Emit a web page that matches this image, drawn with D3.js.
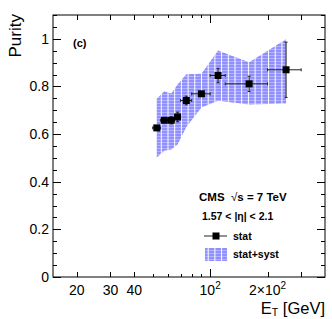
<!DOCTYPE html>
<html>
<head>
<meta charset="utf-8">
<script src="https://cdn.jsdelivr.net/npm/d3@7"></script>
<style>
  body { margin: 0; background: #fff; }
  svg { display: block; font-family: "Liberation Sans", Arial, sans-serif; }
</style>
</head>
<body>
<div id="chart"></div>
<script>
const width = 332;
const height = 319;
const margin = { left: 53, right: 7, top: 15, bottom: 42 };

// ——— DATA —————————————————————————————————————————————————————————
const etLow = [50, 55, 60, 65, 70, 80, 100, 120, 200];
const etHigh = [55, 60, 65, 70, 80, 100, 120, 200, 300];
const purity = [0.626, 0.658, 0.658, 0.672, 0.741, 0.769, 0.846, 0.811, 0.870];
const statErr = [0.010, 0.010, 0.015, 0.020, 0.018, 0.010, 0.030, 0.032, 0.116];
const bandHigh = [0.748, 0.780, 0.770, 0.808, 0.851, 0.853, 0.951, 0.902, 0.998];
const bandLow = [0.502, 0.530, 0.535, 0.556, 0.630, 0.712, 0.740, 0.724, 0.728];

const xTickLabels = [[20, "20"], [30, "30"], [40, "40"], [100, "10", "2"], [200, "2×10", "2"]];
const yTicks = [0, 0.2, 0.4, 0.6, 0.8, 1];

const points = purity.map((p, i) => ({
    lo: etLow[i], hi: etHigh[i], x: (etLow[i] + etHigh[i]) / 2,
    y: p, err: statErr[i], up: bandHigh[i], dn: bandLow[i]
}));

// ——— SCALES ————————————————————————————————————————————————————————
const x = d3.scaleLog().domain([15, 400]).range([margin.left, width - margin.right]);
const y = d3.scaleLinear().domain([0, 1.1]).range([height - margin.bottom, margin.top]);
const x0 = margin.left, x1 = width - margin.right;
const y0 = height - margin.bottom, y1 = margin.top;

const svg = d3.select("#chart").append("svg")
    .attr("width", width)
    .attr("height", height);

// hatch pattern like ROOT fill style
const defs = svg.append("defs");
const pat = defs.append("pattern")
    .attr("id", "hatch")
    .attr("patternUnits", "userSpaceOnUse")
    .attr("width", 6.7).attr("height", 3);
pat.append("rect").attr("width", 6.7).attr("height", 3).attr("fill", "#8f8fff");
pat.append("rect").attr("y", 1).attr("width", 6.7).attr("height", 1).attr("fill", "#b3b3ff");
pat.append("rect").attr("width", 1).attr("height", 3).attr("fill", "#fff");

// ——— BAND ——————————————————————————————————————————————————————————
const area = d3.area()
    .x(d => x(d.x))
    .y0(d => y(d.dn))
    .y1(d => y(d.up));

svg.append("path")
    .attr("d", area(points))
    .attr("fill", "url(#hatch)");

// ——— FRAME & AXES ——————————————————————————————————————————————————
svg.append("rect")
    .attr("x", x0).attr("y", y1)
    .attr("width", x1 - x0).attr("height", y0 - y1)
    .attr("fill", "none").attr("stroke", "#000").attr("stroke-width", 1);

const tickG = svg.append("g").attr("stroke", "#000").attr("stroke-width", 1);

// x ticks (log)
const xMinor = [];
for (let v = 20; v <= 90; v += 10) xMinor.push(v);
xMinor.push(100, 200, 300);
xMinor.forEach(v => {
    let len = 3;
    if (v === 100) len = 8;
    else if ([20, 30, 40, 200, 300].includes(v)) len = 5;
    const px = Math.round(x(v)) + 0.5;
    tickG.append("line").attr("x1", px).attr("x2", px).attr("y1", y0).attr("y2", y0 - len);
    tickG.append("line").attr("x1", px).attr("x2", px).attr("y1", y1).attr("y2", y1 + len);
});

// y ticks
d3.range(0, 1.1001, 0.05).forEach(v => {
    const major = Math.abs(v * 5 - Math.round(v * 5)) < 1e-6;
    const len = major ? 8 : 4;
    const py = Math.round(y(v)) + 0.5;
    tickG.append("line").attr("x1", x0).attr("x2", x0 + len).attr("y1", py).attr("y2", py);
    tickG.append("line").attr("x1", x1).attr("x2", x1 - len).attr("y1", py).attr("y2", py);
});

// y labels
svg.append("g").selectAll("text")
    .data(yTicks)
    .join("text")
    .attr("x", 49)
    .attr("y", d => y(d) + 5)
    .attr("text-anchor", "end")
    .attr("font-size", 14)
    .text(d => d === 0 ? "0" : d === 1 ? "1" : d.toFixed(1));

// x labels
const xl = svg.append("g");
xTickLabels.forEach(([v, base, sup]) => {
    const t = xl.append("text")
        .attr("x", x(v))
        .attr("y", 295)
        .attr("text-anchor", "middle")
        .attr("font-size", 14);
    t.append("tspan").text(base);
    if (sup) t.append("tspan").attr("dy", -6).attr("font-size", 10).text(sup);
});

// axis titles
const xt = svg.append("text")
    .attr("x", 325).attr("y", 314)
    .attr("text-anchor", "end")
    .attr("font-size", 16.5);
xt.append("tspan").text("E");
xt.append("tspan").attr("dy", 2).attr("font-size", 10.5).text("T");
xt.append("tspan").attr("dy", -2).text(" [GeV]");

svg.append("text")
    .attr("transform", "translate(21,14) rotate(-90)")
    .attr("text-anchor", "end")
    .attr("font-size", 17)
    .text("Purity");

// ——— POINTS ————————————————————————————————————————————————————————
const pts = svg.append("g");
const eb = pts.append("g").attr("stroke", "#222").attr("stroke-width", 1);
points.forEach(d => {
    const cx = x(d.x), cy = y(d.y);
    eb.append("line").attr("x1", x(d.lo)).attr("x2", x(d.hi)).attr("y1", cy).attr("y2", cy);
    eb.append("line").attr("x1", cx).attr("x2", cx).attr("y1", y(d.y + d.err)).attr("y2", y(d.y - d.err));
    // end caps
    eb.append("line").attr("x1", x(d.lo)).attr("x2", x(d.lo)).attr("y1", cy - 1.5).attr("y2", cy + 1.5);
    eb.append("line").attr("x1", x(d.hi)).attr("x2", x(d.hi)).attr("y1", cy - 1.5).attr("y2", cy + 1.5);
    eb.append("line").attr("x1", cx - 1.5).attr("x2", cx + 1.5).attr("y1", y(d.y + d.err)).attr("y2", y(d.y + d.err));
    eb.append("line").attr("x1", cx - 1.5).attr("x2", cx + 1.5).attr("y1", y(d.y - d.err)).attr("y2", y(d.y - d.err));
});
pts.selectAll("rect")
    .data(points)
    .join("rect")
    .attr("x", d => x(d.x) - 3.5)
    .attr("y", d => y(d.y) - 3.5)
    .attr("width", 7).attr("height", 7)
    .attr("fill", "#000");

// ——— LABELS & LEGEND ———————————————————————————————————————————————
svg.append("text")
    .attr("x", 73).attr("y", 47)
    .attr("font-size", 11).attr("font-weight", "bold")
    .text("(c)");

svg.append("text")
    .attr("x", 199).attr("y", 201)
    .attr("font-size", 11.5).attr("font-weight", "bold")
    .text("CMS");
const rs = svg.append("text")
    .attr("x", 231).attr("y", 201)
    .attr("font-size", 11.5).attr("font-weight", "bold");
rs.append("tspan").attr("font-weight", "normal").text("√");
rs.append("tspan").text("s = 7 TeV");

svg.append("text")
    .attr("x", 202).attr("y", 220)
    .attr("font-size", 10.5).attr("font-weight", "bold")
    .text("1.57 < |η| < 2.1");

const leg = svg.append("g");
leg.append("line")
    .attr("x1", 204).attr("x2", 227).attr("y1", 236).attr("y2", 236)
    .attr("stroke", "#222");
leg.append("rect")
    .attr("x", 212.5).attr("y", 232.5).attr("width", 7).attr("height", 7)
    .attr("fill", "#000");
leg.append("text")
    .attr("x", 233).attr("y", 240)
    .attr("font-size", 10.5).attr("font-weight", "bold")
    .text("stat");
leg.append("rect")
    .attr("x", 205).attr("y", 248).attr("width", 22).attr("height", 13)
    .attr("fill", "url(#hatch)");
leg.append("text")
    .attr("x", 233).attr("y", 258)
    .attr("font-size", 10.5).attr("font-weight", "bold")
    .text("stat+syst");
</script>
</body>
</html>
